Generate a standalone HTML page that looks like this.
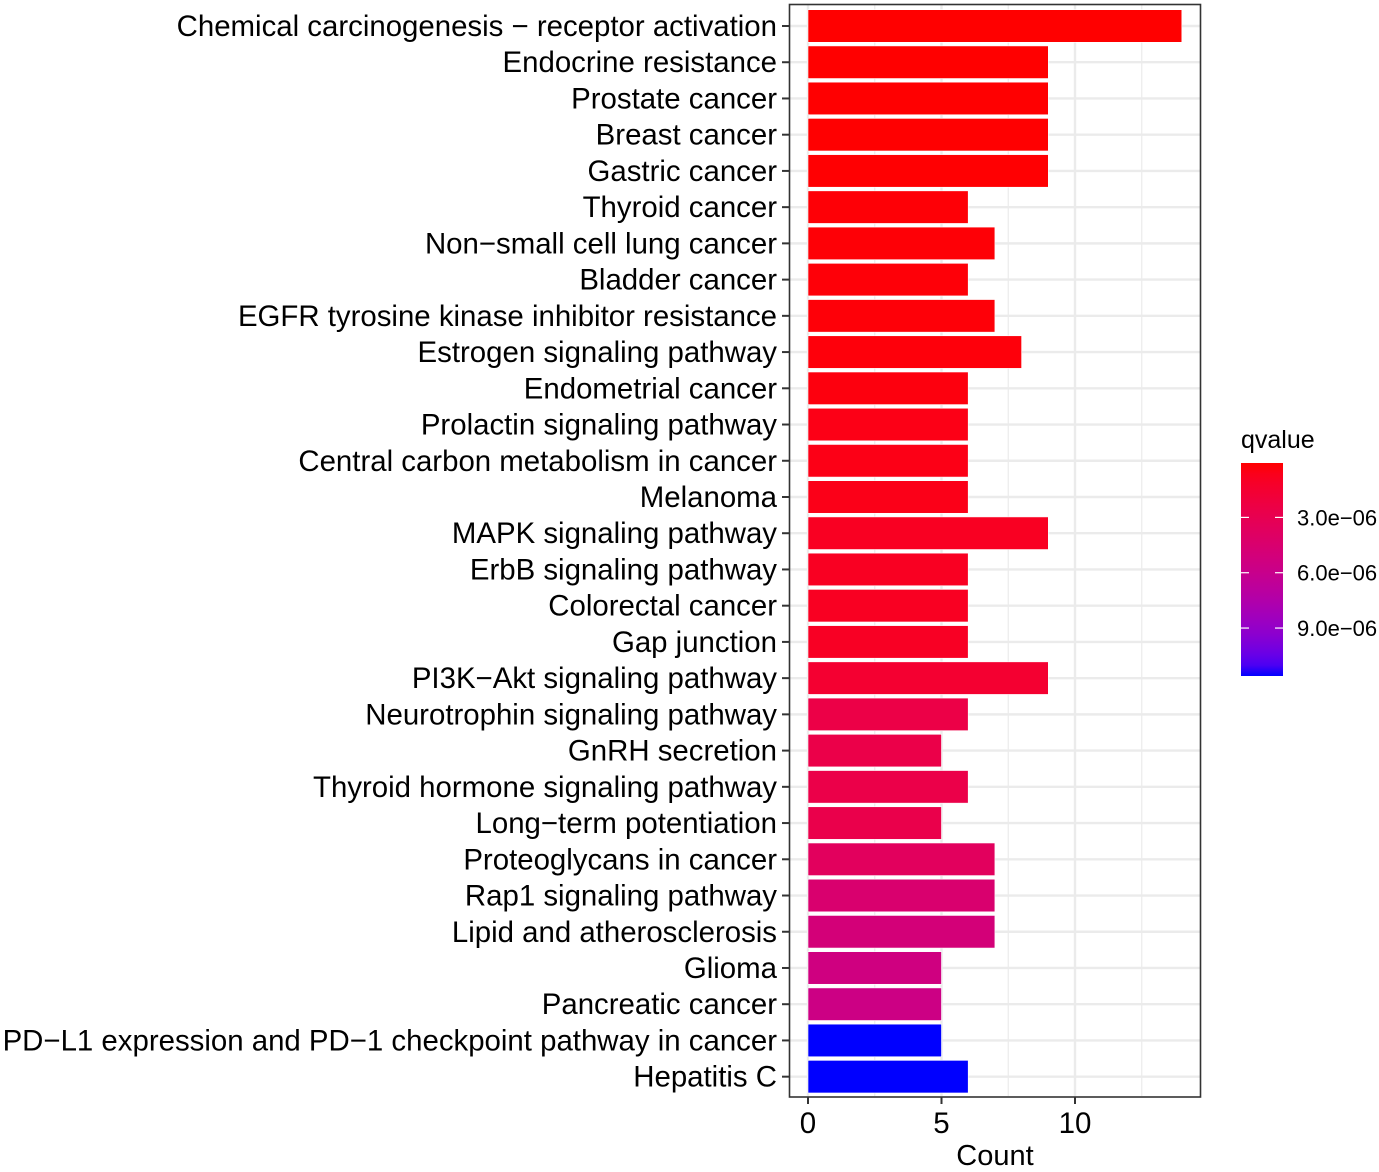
<!DOCTYPE html>
<html><head><meta charset="utf-8"><style>
html,body{margin:0;padding:0;background:#fff;}
svg{display:block;font-family:"Liberation Sans",Arial,sans-serif;}
</style></head><body>
<svg id="chart" width="1379" height="1172" viewBox="0 0 1379 1172">
<g id="grid"></g>
<g id="bars"></g>
<rect x="789.5" y="4.5" width="411" height="1092.5" fill="none" stroke="#333" stroke-width="1.6"/>
<g id="yaxis"></g>
<g id="xaxis"></g>
<text x="995" y="1165" font-size="29" text-anchor="middle" fill="#000">Count</text>
<g id="legend">
<defs><linearGradient id="lg" x1="0" y1="0" x2="0" y2="1"></linearGradient></defs>
<text x="1241" y="448" font-size="25" fill="#000">qvalue</text>
<rect x="1241" y="463" width="42" height="213" fill="url(#lg)"/>
</g>
</svg>
<script>
const categories=["Chemical carcinogenesis \u2212 receptor activation","Endocrine resistance","Prostate cancer","Breast cancer","Gastric cancer","Thyroid cancer","Non\u2212small cell lung cancer","Bladder cancer","EGFR tyrosine kinase inhibitor resistance","Estrogen signaling pathway","Endometrial cancer","Prolactin signaling pathway","Central carbon metabolism in cancer","Melanoma","MAPK signaling pathway","ErbB signaling pathway","Colorectal cancer","Gap junction","PI3K\u2212Akt signaling pathway","Neurotrophin signaling pathway","GnRH secretion","Thyroid hormone signaling pathway","Long\u2212term potentiation","Proteoglycans in cancer","Rap1 signaling pathway","Lipid and atherosclerosis","Glioma","Pancreatic cancer","PD\u2212L1 expression and PD\u22121 checkpoint pathway in cancer","Hepatitis C"];
const counts=[14,9,9,9,9,6,7,6,7,8,6,6,6,6,9,6,6,6,9,6,5,6,5,7,7,7,5,5,5,6];
const qvalues=[0.05e-6,0.05e-6,0.06e-6,0.06e-6,0.08e-6,0.15e-6,0.15e-6,0.2e-6,0.2e-6,0.25e-6,0.3e-6,0.5e-6,0.5e-6,0.55e-6,0.9e-6,0.9e-6,0.9e-6,0.95e-6,1.5e-6,2.5e-6,2.6e-6,2.6e-6,2.7e-6,3.6e-6,4.5e-6,5.0e-6,5.4e-6,5.6e-6,11.6e-6,11.6e-6];
const xTicks=[0,5,10];
const xMinor=[2.5,7.5,12.5];
const legendTicks=[3e-6,6e-6,9e-6];
const legendLabels=["3.0e\u221206","6.0e\u221206","9.0e\u221206"];

const NS="http://www.w3.org/2000/svg";
const X0=808, XS=26.7;
const xs=v=>X0+v*XS;
const Y0=26, YS=36.23, BH=32.6;
const ys=i=>Y0+i*YS;
const qmin=Math.min(...qvalues), qmax=Math.max(...qvalues);
const LT=463, LB=676;
const qy=q=>LT+(q-qmin)/(qmax-qmin)*(LB-LT);

function mk(tag,attrs,parent){const e=document.createElementNS(NS,tag);for(const k in attrs)e.setAttribute(k,attrs[k]);parent.appendChild(e);return e;}
function lab2rgb(L,a,b){let fy=(L+16)/116,fx=fy+a/500,fz=fy-b/200;const f=t=>t>0.206893?t*t*t:(t-16/116)/7.787;
let X=0.95047*f(fx),Y=1*f(fy),Z=1.08883*f(fz);
let r=3.2406*X-1.5372*Y-0.4986*Z,g=-0.9689*X+1.8758*Y+0.0415*Z,bb=0.0557*X-0.2040*Y+1.0570*Z;
const gm=c=>{c=c<=0.0031308?12.92*c:1.055*Math.pow(c,1/2.4)-0.055;return Math.round(Math.max(0,Math.min(1,c))*255);};
return `rgb(${gm(r)},${gm(g)},${gm(bb)})`;}
const R=[53.24,80.09,67.2],B=[32.3,79.19,-107.86];
function col(t){return lab2rgb(R[0]+(B[0]-R[0])*t,R[1]+(B[1]-R[1])*t,R[2]+(B[2]-R[2])*t);}
const qcol=q=>col((q-qmin)/(qmax-qmin));

const grid=document.getElementById('grid');
xMinor.forEach(v=>{const l=mk('line',{x1:xs(v),x2:xs(v),y1:5,y2:1096,stroke:'#ebebeb','stroke-width':1.2},grid);

});
xTicks.forEach(v=>{const l=mk('line',{x1:xs(v),x2:xs(v),y1:5,y2:1096,stroke:'#ebebeb','stroke-width':2.4},grid);

});
categories.forEach((c,i)=>{const l=mk('line',{x1:790,x2:1200,y1:ys(i),y2:ys(i),stroke:'#ebebeb','stroke-width':2.4},grid);

});

const bars=document.getElementById('bars');
const yaxis=document.getElementById('yaxis');
categories.forEach((c,i)=>{
const r=mk('rect',{x:xs(0),y:ys(i)-BH/2,width:xs(counts[i])-xs(0),height:BH,fill:qcol(qvalues[i]),stroke:'#fff','stroke-width':0.6},bars);


const t=mk('line',{x1:782,x2:789,y1:ys(i),y2:ys(i),stroke:'#333','stroke-width':2},yaxis);


const tx=mk('text',{x:777,y:ys(i)+10,'font-size':29.4,'text-anchor':'end',fill:'#000'},yaxis);
tx.textContent=c;


});
const xaxis=document.getElementById('xaxis');
xTicks.forEach(v=>{
const t=mk('line',{x1:xs(v),x2:xs(v),y1:1097,y2:1104,stroke:'#333','stroke-width':2},xaxis);


const tx=mk('text',{x:xs(v),y:1133,'font-size':29.5,'text-anchor':'middle',fill:'#000'},xaxis);
tx.textContent=String(v);


});
const lg=document.getElementById('lg');
for(let k=0;k<=20;k++){mk('stop',{offset:(k/20),'stop-color':col(k/20)},lg);}
const legend=document.getElementById('legend');
legendTicks.forEach((q,i)=>{
const y=qy(q);
const a=mk('line',{x1:1241,x2:1249,y1:y,y2:y,stroke:'#fff','stroke-width':1.2},legend);


const b=mk('line',{x1:1275,x2:1283,y1:y,y2:y,stroke:'#fff','stroke-width':1.2},legend);


const tx=mk('text',{x:1297,y:y+8,'font-size':22,fill:'#000'},legend);
tx.textContent=legendLabels[i];


});
</script>
</body></html>
